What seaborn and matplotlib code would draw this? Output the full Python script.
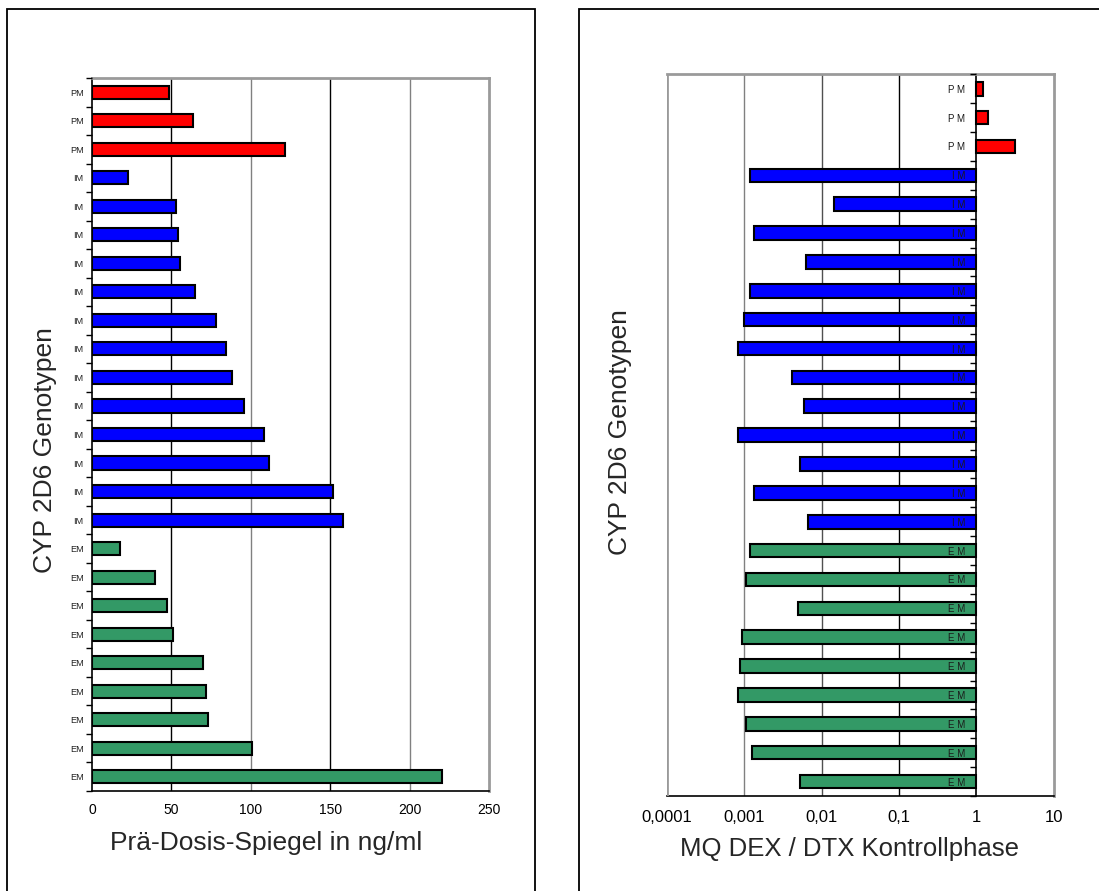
import numpy as np
import pandas as pd
import matplotlib
matplotlib.use("Agg")
import matplotlib.pyplot as plt
import seaborn as sns
from matplotlib.patches import Rectangle
from matplotlib.ticker import FixedLocator, FixedFormatter, NullFormatter

# CYP 2D6 genotype of each subject, top to bottom
genotypes = ["PM"] * 3 + ["IM"] * 13 + ["EM"] * 9

# Pre-dose level (ng/ml)
pre_dose = [48.5, 63.8, 121.3,
            22.9, 52.7, 54.4, 55.2, 64.9, 78.3, 84.4, 88.0, 95.9, 108.1, 111.2, 152.0, 158.3,
            17.8, 39.4, 47.0, 51.2, 70.0, 72.0, 72.8, 101.0, 220.4]

# Metabolic ratio DEX / DTX in the control phase
ratio = [1.21, 1.43, 3.13,
         0.00118, 0.0145, 0.00133, 0.00625, 0.00118, 0.00099, 0.00083, 0.00416,
         0.00594, 0.00083, 0.00522, 0.00133, 0.0067,
         0.00118, 0.00106, 0.00498, 0.00093, 0.00089, 0.00083, 0.00105, 0.00126, 0.00527]

left_ticks = [0, 50, 100, 150, 200, 250]
right_ticks = [0.0001, 0.001, 0.01, 0.1, 1, 10]
right_tick_labels = ["0,0001", "0,001", "0,01", "0,1", "1", "10"]

colors = {"PM": "#FF0000", "IM": "#0000FF", "EM": "#339966"}

sns.set_style("white")
plt.rcParams["font.family"] = ["Liberation Sans", "DejaVu Sans"]

slots = [f"s{i:02d}" for i in range(len(genotypes))]
df = pd.DataFrame({
    "slot": slots,
    "genotype": genotypes,
    "pre": pre_dose,
    "log_ratio": np.log10(ratio),
})

fig = plt.figure(figsize=(10.99, 8.91), dpi=100)

# Panel frames
fig.add_artist(Rectangle((7 / 1099, -0.05), (535 - 7) / 1099, 1 - 9 / 891 + 0.05,
                         transform=fig.transFigure, fill=False, ec="black", lw=1.3))
fig.add_artist(Rectangle((579 / 1099, -0.05), 0.6, 1 - 9 / 891 + 0.05,
                         transform=fig.transFigure, fill=False, ec="black", lw=1.3))

axL = fig.add_axes([92 / 1099, 1 - 791 / 891, (489 - 92) / 1099, (791 - 78) / 891])
axR = fig.add_axes([666.7 / 1099, 1 - 796 / 891, (1053.7 - 666.7) / 1099, (796 - 74.3) / 891])

bar_kw = dict(y="slot", hue="genotype", palette=colors, order=slots, dodge=False,
              orient="h", saturation=1, edgecolor="black", linewidth=1.5, legend=False)

# ---- left panel: pre-dose levels ----
sns.barplot(data=df, x="pre", width=0.46, ax=axL, **bar_kw)
axL.set_axisbelow(False)
axL.set_xlim(0, 250)
axL.set_ylim(len(slots) - 0.5, -0.5)
for v, c in zip([50, 100, 150, 200], ["black", "#808080", "black", "#808080"]):
    axL.axvline(v, color=c, lw=1.0, zorder=0)

axL.set_xticks(left_ticks)
axL.set_xticklabels([str(t) for t in left_ticks])
axL.tick_params(axis="x", direction="out", length=4, width=1, labelsize=10, pad=5,
                color="black", labelcolor="black")
axL.yaxis.set_major_locator(FixedLocator(np.arange(-0.5, len(slots), 1.0)))
axL.yaxis.set_major_formatter(NullFormatter())
axL.yaxis.set_minor_locator(FixedLocator(np.arange(len(slots))))
axL.yaxis.set_minor_formatter(FixedFormatter(genotypes))
axL.tick_params(axis="y", which="major", direction="out", length=4, width=1, color="black", left=True)
axL.tick_params(axis="y", which="minor", length=0, pad=6, labelsize=6.6, labelcolor="#222222")

for s in ["left", "bottom"]:
    axL.spines[s].set_color("black")
    axL.spines[s].set_linewidth(1.2)
for s in ["top", "right"]:
    axL.spines[s].set_color("#9a9a9a")
    axL.spines[s].set_linewidth(2)

axL.set_xlabel("Prä-Dosis-Spiegel in ng/ml", fontsize=19)
axL.xaxis.set_label_coords((266.5 - 92) / 397, (791 - 843) / 713)
axL.xaxis.label.set_va("center")
axL.set_ylabel("CYP 2D6 Genotypen", fontsize=19)
axL.yaxis.set_label_coords((45 - 92) / 397, (791 - 450) / 713)
axL.yaxis.label.set_va("center")

# ---- right panel: metabolic ratio, log axis crossing at 1 ----
sns.barplot(data=df, x="log_ratio", width=0.47, ax=axR, **bar_kw)
axR.set_axisbelow(False)
lo, hi = np.log10(right_ticks[0]), np.log10(right_ticks[-1])
axR.set_xlim(lo, hi)
axR.set_ylim(len(slots) - 0.5, -0.5)
for v, c in zip([-3, -2, -1], ["#808080", "#505050", "black"]):
    axR.axvline(v, color=c, lw=1.0, zorder=0)
axR.axvline(lo, color="#9a9a9a", lw=2, zorder=3)

axR.set_xticks(np.log10(right_ticks))
axR.set_xticklabels(right_tick_labels)
axR.tick_params(axis="x", direction="out", length=4, width=1, labelsize=12, pad=6,
                color="black", labelcolor="black")

axR.spines["left"].set_position(("data", 0))
axR.spines["left"].set_color("black")
axR.spines["left"].set_linewidth(1.2)
axR.spines["bottom"].set_color("black")
axR.spines["bottom"].set_linewidth(1.2)
for s in ["top", "right"]:
    axR.spines[s].set_color("#9a9a9a")
    axR.spines[s].set_linewidth(2)

axR.yaxis.set_major_locator(FixedLocator(np.arange(-0.5, len(slots), 1.0)))
axR.yaxis.set_major_formatter(NullFormatter())
axR.yaxis.set_minor_locator(FixedLocator(np.arange(len(slots))))
axR.yaxis.set_minor_formatter(FixedFormatter([" ".join(g) for g in genotypes]))
axR.tick_params(axis="y", which="major", direction="out", length=4, width=1, color="black", left=True)
axR.tick_params(axis="y", which="minor", length=0, pad=8, labelsize=7, labelcolor="#1a1a1a")

axR.set_xlabel("MQ DEX / DTX Kontrollphase", fontsize=18.5)
axR.xaxis.set_label_coords((849 - 666.7) / 387, (796 - 849) / 721.7)
axR.xaxis.label.set_va("center")
axR.set_ylabel("CYP 2D6 Genotypen", fontsize=19)
axR.yaxis.set_label_coords((620 - 666.7) / 387, (796 - 432) / 721.7)
axR.yaxis.label.set_va("center")

fig.savefig("out.png", dpi=100)
